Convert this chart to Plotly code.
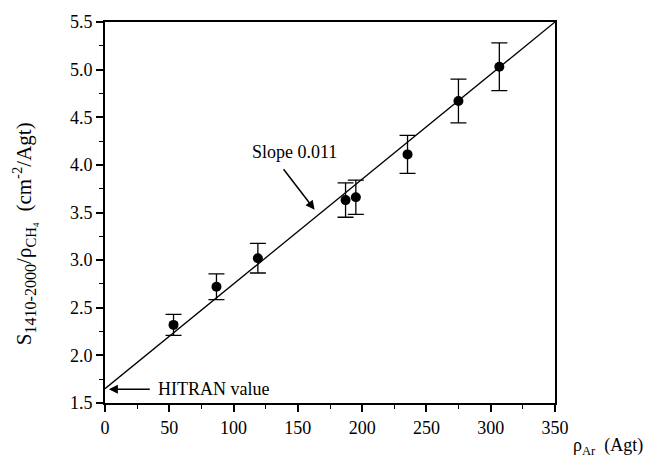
import plotly.graph_objects as go

# Data
rho_ar = [53.3, 86.7, 118.9, 187.1, 195.1, 235.3, 274.9, 306.7]
s_ratio = [2.32, 2.72, 3.02, 3.63, 3.66, 4.11, 4.67, 5.03]
err = [0.11, 0.135, 0.155, 0.18, 0.18, 0.20, 0.23, 0.25]

slope = 0.011
intercept = 1.65
fit_x = [0, 350]
fit_y = [intercept + slope * x for x in fit_x]

x_ticks = [0, 50, 100, 150, 200, 250, 300, 350]
y_ticks = [1.5, 2.0, 2.5, 3.0, 3.5, 4.0, 4.5, 5.0, 5.5]

FONT = "Liberation Serif"
FS = 18

fig = go.Figure()
fig.add_trace(go.Scatter(x=fit_x, y=fit_y, mode="lines",
                         line=dict(color="black", width=1.3), showlegend=False,
                         hoverinfo="skip"))
fig.add_trace(go.Scatter(x=rho_ar, y=s_ratio, mode="markers",
                         marker=dict(color="black", size=10),
                         error_y=dict(type="data", array=err, visible=True,
                                      color="black", thickness=1.3, width=8),
                         showlegend=False))

fig.update_layout(
    width=650, height=470,
    margin=dict(l=105, r=95, t=20, b=67),
    paper_bgcolor="white", plot_bgcolor="white",
    font=dict(family=FONT, size=FS, color="black"),
    xaxis=dict(range=[0, 350], tickvals=x_ticks, ticktext=[str(v) for v in x_ticks],
               showgrid=False, zeroline=False, showline=True, linecolor="black",
               linewidth=2, mirror=True, ticks="outside", ticklen=7, tickwidth=1.5,
               tickcolor="black",
               minor=dict(dtick=25, tick0=0, ticks="outside", ticklen=4,
                          tickwidth=1.2, tickcolor="black", showgrid=False),
               tickfont=dict(family=FONT, size=FS)),
    yaxis=dict(range=[1.5, 5.5], tickvals=y_ticks,
               ticktext=[f"{v:.1f}" for v in y_ticks],
               showgrid=False, zeroline=False, showline=True, linecolor="black",
               linewidth=2, mirror=True, ticks="outside", ticklen=7, tickwidth=1.5,
               tickcolor="black",
               minor=dict(dtick=0.25, tick0=1.5, ticks="outside", ticklen=4,
                          tickwidth=1.2, tickcolor="black", showgrid=False),
               tickfont=dict(family=FONT, size=FS)),
)

# y-axis title (rotated annotation)
ytitle = ("S<span style='font-size:23px'><sub>1410-2000</sub></span>/ρ"
          "<span style='font-size:21px'><sub>CH₄</sub></span>  "
          "(cm<sup>-2</sup>/Agt)")
fig.add_annotation(x=-0.178, y=0.445, xref="paper", yref="paper",
                   text=ytitle, textangle=-90, showarrow=False,
                   xanchor="center", yanchor="middle",
                   font=dict(family=FONT, size=21))

# Slope annotation with arrow
fig.add_annotation(x=163, y=3.53, xref="x", yref="y",
                   ax=138, ay=3.97, axref="x", ayref="y",
                   text="", showarrow=True, arrowhead=2, arrowsize=1.2,
                   arrowwidth=1.5, arrowcolor="black")
fig.add_annotation(x=147.5, y=4.13, xref="x", yref="y",
                   text="Slope 0.011", showarrow=False, xanchor="center",
                   yanchor="middle", font=dict(family=FONT, size=FS))

# HITRAN annotation
fig.add_annotation(x=3, y=1.645, xref="x", yref="y",
                   ax=36, ay=1.645, axref="x", ayref="y", text="", showarrow=True,
                   arrowhead=2, arrowsize=1.2, arrowwidth=1.5, arrowcolor="black")
fig.add_annotation(x=40, y=1.645, xref="x", yref="y", text="HITRAN value",
                   showarrow=False, xanchor="left", yanchor="middle",
                   font=dict(family=FONT, size=FS))

# x-axis title at lower right
fig.add_annotation(x=1.2, y=-0.115, xref="paper", yref="paper",
                   text="ρ<sub>Ar</sub>  (Agt)", showarrow=False,
                   xanchor="right", yanchor="middle",
                   font=dict(family=FONT, size=FS))

fig.write_html("out.html")
